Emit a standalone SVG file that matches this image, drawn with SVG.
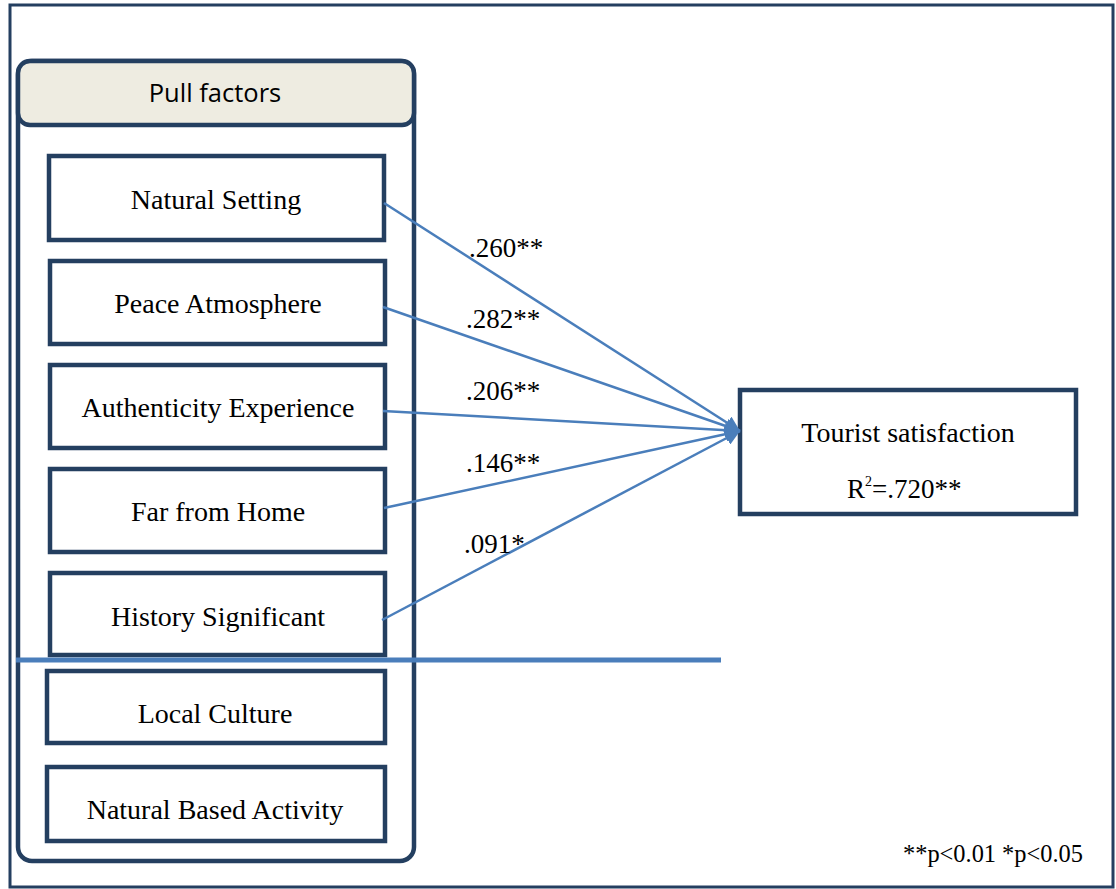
<svg xmlns="http://www.w3.org/2000/svg" width="1116" height="889" viewBox="0 0 1116 889">
<style>
.frame{fill:#ffffff;stroke:#243f60;stroke-width:3}
.box{fill:#ffffff;stroke:#243f60;stroke-width:4.5}
.hdr{fill:#eeece1;stroke:#243f60;stroke-width:4.5}
.t{font-family:"Liberation Serif","Times New Roman",serif;font-size:28px;fill:#000;text-anchor:middle}
.lbl{font-family:"Liberation Serif","Times New Roman",serif;font-size:27px;fill:#000}
.note{font-family:"Liberation Serif","Times New Roman",serif;font-size:24.4px;fill:#000}
.hdrt{font-family:"Open Sans","Liberation Sans",sans-serif;font-size:25.5px;fill:#000;text-anchor:middle}
.c{stroke:#4a7ebb;stroke-width:2.5;fill:none;marker-end:url(#ah)}
</style>
<defs>
<marker id="ah" viewBox="0 0 10 10" refX="10" refY="5" markerWidth="6" markerHeight="6" orient="auto" markerUnits="strokeWidth">
<path d="M0,0 L10,5 L0,10 z" fill="#4a7ebb"/>
</marker>
</defs>
<rect x="10" y="5" width="1103" height="882" class="frame"/>
<g id="pull-factors">
<rect x="18" y="61" width="396" height="800" rx="14" class="box"/>
<rect x="18" y="61" width="396" height="64" rx="12" class="hdr"/>
<text x="215" y="102" class="hdrt">Pull factors</text>
</g>
<g id="natural-setting">
<rect x="49" y="156" width="335" height="84" class="box"/>
<text x="216" y="209" class="t">Natural Setting</text>
</g>
<g id="peace-atmosphere">
<rect x="50" y="261" width="335" height="83" class="box"/>
<text x="218" y="313" class="t">Peace Atmosphere</text>
</g>
<g id="authenticity-experience">
<rect x="50" y="365" width="335" height="83" class="box"/>
<text x="218" y="417" class="t">Authenticity Experience</text>
</g>
<g id="far-from-home">
<rect x="50" y="469" width="335" height="83" class="box"/>
<text x="218" y="521" class="t">Far from Home</text>
</g>
<g id="history-significant">
<rect x="50" y="573" width="335" height="82" class="box"/>
<text x="218" y="626" class="t">History Significant</text>
</g>
<g id="local-culture">
<rect x="47" y="671" width="338" height="72" class="box"/>
<text x="215" y="723" class="t">Local Culture</text>
</g>
<g id="natural-based-activity">
<rect x="47" y="767" width="338" height="74" class="box"/>
<text x="215" y="819" class="t">Natural Based Activity</text>
</g>
<g id="tourist-satisfaction">
<rect x="740" y="390" width="336" height="124" class="box"/>
<text x="908" y="442" class="t">Tourist satisfaction</text>
<text x="847" y="498" class="lbl">R<tspan dy="-12" style="font-size:14px">2</tspan><tspan dy="12">=.720**</tspan></text>
</g>
<g id="connectors">
<line x1="384" y1="203" x2="740" y2="431" class="c"/>
<line x1="383" y1="307" x2="740" y2="431" class="c"/>
<line x1="383" y1="411" x2="740" y2="431" class="c"/>
<line x1="384" y1="508" x2="740" y2="431" class="c"/>
<line x1="382" y1="620" x2="740" y2="431" class="c"/>
<line x1="16" y1="660" x2="721" y2="660" stroke="#4a7ebb" stroke-width="5"/>
</g>
<g id="labels">
<text x="469" y="257" class="lbl">.260**</text>
<text x="466" y="328" class="lbl">.282**</text>
<text x="466" y="400" class="lbl">.206**</text>
<text x="466" y="472" class="lbl">.146**</text>
<text x="464" y="553" class="lbl">.091*</text>
<text x="903" y="862" class="note">**p&lt;0.01 *p&lt;0.05</text>
</g>
</svg>
